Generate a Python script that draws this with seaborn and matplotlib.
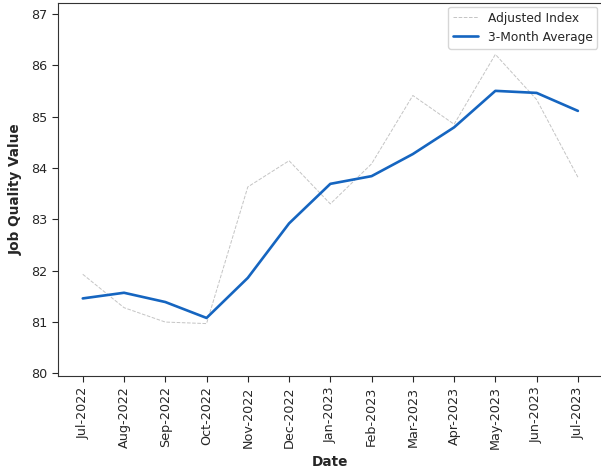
import pandas as pd
import numpy as np
import matplotlib
matplotlib.use('Agg')
import matplotlib.pyplot as plt
import seaborn as sns

# Monthly values
months = ['Jul-2022', 'Aug-2022', 'Sep-2022', 'Oct-2022', 'Nov-2022', 'Dec-2022',
          'Jan-2023', 'Feb-2023', 'Mar-2023', 'Apr-2023', 'May-2023', 'Jun-2023', 'Jul-2023']
adjusted_index = [81.93, 81.28, 81.00, 80.97, 83.63, 84.14,
                  83.30, 84.08, 85.41, 84.85, 86.21, 85.33, 83.82]
three_month_avg = [81.46, 81.57, 81.39, 81.08, 81.86, 82.92,
                   83.69, 83.84, 84.27, 84.79, 85.50, 85.46, 85.11]

df = pd.DataFrame({'Date': months,
                   'Adjusted Index': adjusted_index,
                   '3-Month Average': three_month_avg})

sns.set_style('ticks')
fig = plt.figure(figsize=(6.01, 4.72), dpi=100)
ax = fig.add_axes([58 / 601, 96 / 472, 543 / 601, 373 / 472])

sns.lineplot(data=df, x='Date', y='Adjusted Index', ax=ax, color='#c4c4c4',
             linestyle='--', linewidth=0.7, label='Adjusted Index', sort=False)
sns.lineplot(data=df, x='Date', y='3-Month Average', ax=ax, color='#1565C0',
             linewidth=1.9, label='3-Month Average', sort=False)

ax.set_xlim(-0.6, 12.56)
ax.set_ylim(79.95, 87.21)
ax.set_yticks(range(80, 88))
ax.tick_params(axis='x', rotation=90, labelsize=9.2, length=4)
ax.tick_params(axis='y', labelsize=9.2, length=4)
ax.set_xlabel('Date', fontsize=9.8, fontweight='bold', labelpad=4)
ax.set_ylabel('Job Quality Value', fontsize=9.8, fontweight='bold', labelpad=6)
ax.spines['right'].set_visible(False)
for s in ['left', 'bottom', 'top']:
    ax.spines[s].set_color('#333333')
ax.legend(loc='upper right', fontsize=8.8, borderaxespad=0.3)

plt.savefig('out.png', dpi=100)
